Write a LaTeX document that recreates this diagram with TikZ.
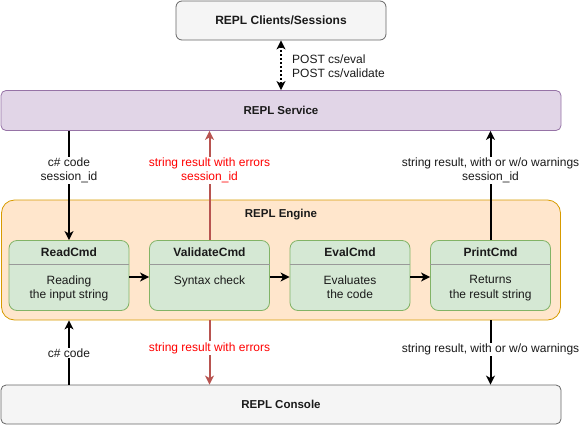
\documentclass[tikz,border=0pt]{standalone}
\usepackage{fontspec}
\setmainfont{Liberation Sans}
\usetikzlibrary{arrows.meta}
\definecolor{grayfill}{HTML}{F5F5F5}
\definecolor{graystroke}{HTML}{666666}
\definecolor{purplefill}{HTML}{E1D5E7}
\definecolor{purplestroke}{HTML}{9673A6}
\definecolor{orangefill}{HTML}{FFE6CC}
\definecolor{orangestroke}{HTML}{D79B00}
\definecolor{greenfill}{HTML}{D5E8D4}
\definecolor{greenstroke}{HTML}{82B366}
\definecolor{redline}{HTML}{B85450}
\definecolor{redtext}{HTML}{FF0000}
\definecolor{txt}{HTML}{1A1A1A}
\tikzset{
  bigbox/.style={draw=graystroke, fill=grayfill, rounded corners=5pt, line width=0.8pt, inner sep=0pt, text=txt,
    font=\fontsize{11.5}{13}\selectfont\bfseries},
  cmdbox/.style={draw=greenstroke, fill=greenfill, rounded corners=8pt, line width=0.8pt,
    minimum width=120pt, minimum height=70pt, inner sep=0pt},
  cmdtitle/.style={font=\fontsize{12}{14}\selectfont\bfseries, text=txt, inner sep=0pt},
  cmdbody/.style={font=\fontsize{12}{14.5}\selectfont, text=txt, align=center, inner sep=0pt},
  lbl/.style={font=\fontsize{12}{14.5}\selectfont, text=txt, align=center, fill=white, inner sep=1pt},
  redlbl/.style={lbl, text=redtext},
  tip/.tip={Stealth[length=9pt, width=9pt, inset=2.5pt]},
  blackarrow/.style={line width=2pt, -tip},
  redarrow/.style={line width=2pt, draw=redline, -{Stealth[length=9pt, width=9pt, inset=2.5pt, fill=redline]}},
}
\begin{document}
\begin{tikzpicture}[x=1pt, y=-1pt]
\useasboundingbox (0,0) rectangle (580,426);

% Clients
\node[bigbox, minimum width=210pt, minimum height=39pt, rounded corners=6pt,
  font=\fontsize{12}{14}\selectfont\bfseries] (clients) at (281,20.5) {REPL Clients/Sessions};

% Service
\node[bigbox, draw=purplestroke, fill=purplefill, minimum width=560pt, minimum height=40pt] (service) at (281,110.5) {REPL Service};

% Engine
\node[draw=orangestroke, fill=orangefill, rounded corners=13pt, line width=0.8pt,
  minimum width=559pt, minimum height=120pt, inner sep=0pt] (engine) at (281,260) {};
\node[font=\fontsize{11.5}{13}\selectfont\bfseries, text=txt, inner sep=0pt] (enginetitle) at (281,214.5) {REPL Engine};

% Console
\node[bigbox, minimum width=560pt, minimum height=39pt] (console) at (281,404.5) {REPL Console};

% Cmd boxes
\foreach \n/\cx/\t/\b in {read/69/ReadCmd/{Reading\\the input string},
                          validate/209.5/ValidateCmd/{Syntax check},
                          eval/350/EvalCmd/{Evaluates\\the code},
                          print/490.5/PrintCmd/{Returns\\the result string}}{
  \node[cmdbox] (\n) at (\cx,275.5) {};
  \draw[draw=gray!80, line width=0.8pt] ([yshift=-24.5pt]\n.north west) -- ([yshift=-24.5pt]\n.north east);
  \node[cmdtitle] (\n t) at ([yshift=-12pt]\n.north) {\t};
  \node[cmdbody, anchor=north] (\n b) at ([yshift=-35pt]\n.north) {\b};
}

% horizontal arrows
\draw[blackarrow] (read.east |- 0,277) -- (validate.west |- 0,277);
\draw[blackarrow] (validate.east |- 0,277) -- (eval.west |- 0,277);
\draw[blackarrow] (eval.east |- 0,277) -- (print.west |- 0,277);

% Clients <-> Service
\draw[line width=2pt, dotted, tip-tip] (clients.south) -- (service.north);
\node[font=\fontsize{12}{14}\selectfont, text=txt, align=left, anchor=west, inner sep=0pt] (postlbl) at (292,66.5)
  {POST cs/eval\\POST cs/validate};

% Service -> ReadCmd
\draw[blackarrow] (service.south -| read.north) -- (read.north);
\node[lbl] (l1) at (69,170.5) {c\# code\\session\_id};

% ValidateCmd -> Service (red)
\draw[redarrow] (validate.north) -- (service.south -| validate.north);
\node[redlbl] (l2) at (209.5,170.5) {string result with errors\\session\_id};

% PrintCmd -> Service
\draw[blackarrow] (print.north) -- (service.south -| print.north);
\node[lbl] (l3) at (490.5,170.5) {string result, with or w/o warnings\\session\_id};

% Console -> Engine (c# code)
\draw[blackarrow] (console.north -| read.north) -- (engine.south -| read.north);
\node[lbl] (l4) at (69,353) {c\# code};

% Engine -> Console red
\draw[redarrow] (engine.south -| validate.north) -- (console.north -| validate.north);
\node[redlbl] (l5) at (209.5,348) {string result with errors};

% Engine -> Console black
\draw[blackarrow] (engine.south -| print.north) -- (console.north -| print.north);
\node[lbl] (l6) at (490.5,349.5) {string result, with or w/o warnings};
\end{tikzpicture}
\end{document}
